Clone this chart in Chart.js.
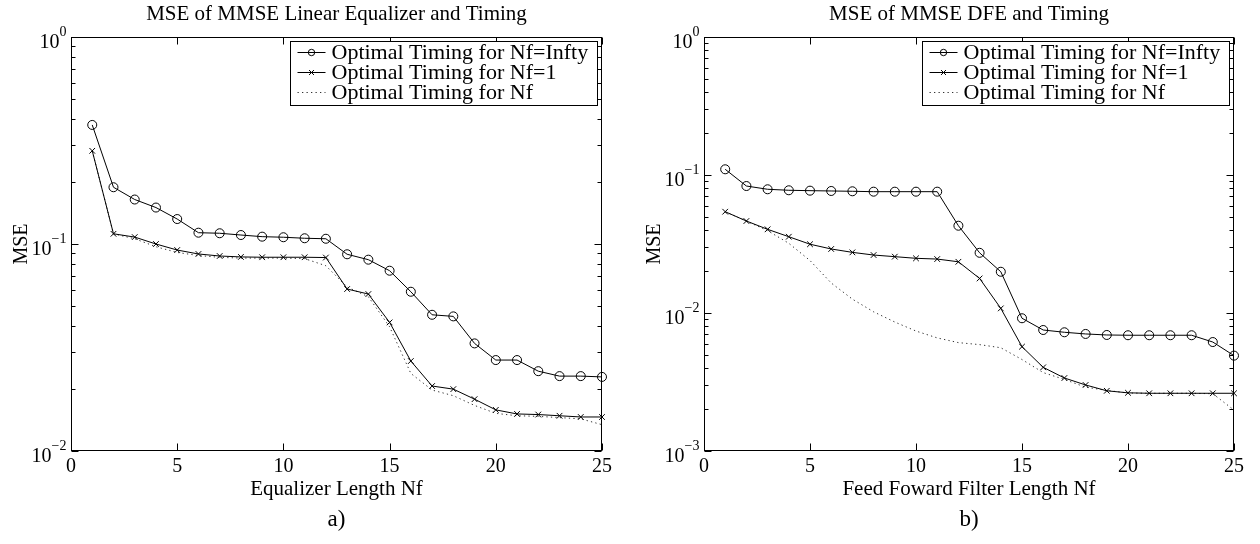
<!DOCTYPE html>
<html><head><meta charset="utf-8">
<script src="https://cdn.jsdelivr.net/npm/chart.js@4.4.1/dist/chart.umd.min.js"></script>
<style>
html,body{margin:0;padding:0;background:#fff;}
#wrap{position:relative;width:1260px;height:544px;overflow:hidden;background:#fff;}
canvas{position:absolute;top:0;}
</style></head><body>
<div id="wrap">
<canvas id="c1" width="640" height="544" style="left:0px"></canvas>
<canvas id="c2" width="620" height="544" style="left:640px"></canvas>
</div>
<script>
// ---------- data ----------
const nf = [1,2,3,4,5,6,7,8,9,10,11,12,13,14,15,16,17,18,19,20,21,22,23,24,25];
const xTicks = [0,5,10,15,20,25];
const yTicksLE = [0.01, 0.1, 1];
const yTicksDFE = [0.001, 0.01, 0.1, 1];
const legendLabels = ['Optimal Timing for Nf=Infty', 'Optimal Timing for Nf=1', 'Optimal Timing for Nf'];

// a) MMSE linear equalizer
const leInfty = [0.376, 0.188, 0.164, 0.150, 0.132, 0.1134, 0.1127, 0.1105, 0.1085, 0.1078, 0.1066, 0.1060, 0.0892, 0.0840, 0.0743, 0.0588, 0.0455, 0.0447, 0.0331, 0.0275, 0.0275, 0.0243, 0.0230, 0.0230, 0.0228];
const leNf1   = [0.282, 0.112, 0.108, 0.100, 0.0935, 0.0895, 0.0875, 0.0866, 0.0863, 0.0863, 0.0863, 0.0860, 0.0606, 0.0573, 0.0418, 0.0272, 0.0206, 0.0199, 0.0178, 0.0158, 0.0151, 0.0150, 0.0148, 0.0146, 0.0146];
const leNfOpt = [0.282, 0.112, 0.106, 0.097, 0.091, 0.0880, 0.0862, 0.0855, 0.0855, 0.0855, 0.0850, 0.0785, 0.0620, 0.0556, 0.0398, 0.0237, 0.0197, 0.0185, 0.0166, 0.0152, 0.0148, 0.0147, 0.0145, 0.0143, 0.0134];

// b) MMSE DFE
const dfeInfty = [0.110, 0.0832, 0.0788, 0.0775, 0.0770, 0.0766, 0.0762, 0.0757, 0.0757, 0.0757, 0.0757, 0.0429, 0.0273, 0.0199, 0.00916, 0.00753, 0.00725, 0.00705, 0.00693, 0.0069, 0.0069, 0.0069, 0.0069, 0.00616, 0.00491];
const dfeNf1   = [0.0542, 0.0464, 0.0404, 0.0357, 0.0315, 0.0291, 0.0275, 0.0263, 0.0256, 0.0249, 0.0246, 0.0235, 0.0178, 0.0108, 0.0057, 0.00404, 0.00338, 0.00301, 0.00273, 0.00264, 0.00262, 0.00262, 0.00262, 0.00262, 0.00262];
const dfeNfOpt = [0.0542, 0.0464, 0.0395, 0.0320, 0.0240, 0.0165, 0.0126, 0.0102, 0.0086, 0.0074, 0.0066, 0.0061, 0.0059, 0.0056, 0.0046, 0.0037, 0.0033, 0.0029, 0.00275, 0.00263, 0.00262, 0.00262, 0.00262, 0.0026, 0.00198];

// ---------- drawing ----------
const FONT = '"Liberation Serif", "Times New Roman", Times, serif';
const pts = arr => nf.map((v, i) => ({x: v, y: arr[i]}));

function line(ctx, x1, y1, x2, y2) { ctx.beginPath(); ctx.moveTo(x1, y1); ctx.lineTo(x2, y2); ctx.stroke(); }

function drawMarker(ctx, style, cx, cy, r) {
  ctx.beginPath();
  if (style === 'circle') { ctx.arc(cx, cy, r, 0, Math.PI * 2); }
  else if (style === 'crossRot') { const d = r * 0.7071; ctx.moveTo(cx - d, cy - d); ctx.lineTo(cx + d, cy + d); ctx.moveTo(cx + d, cy - d); ctx.lineTo(cx - d, cy + d); }
  ctx.stroke();
}

const matlabPlugin = {
  id: 'matlab',
  afterDraw(chart, args, o) {
    const {ctx, chartArea: ca} = chart;
    const xs = chart.scales.x, ys = chart.scales.y;
    ctx.save();
    ctx.strokeStyle = '#000'; ctx.fillStyle = '#000'; ctx.lineWidth = 1; ctx.setLineDash([]);
    const L = Math.round(ca.left) + 0.5, R = Math.round(ca.right) - 0.5, T = Math.round(ca.top) + 0.5, B = Math.round(ca.bottom) - 0.5;
    // ticks
    for (const v of xTicks) {
      const px = Math.round(xs.getPixelForValue(v)) + 0.5;
      line(ctx, px, B, px, B - 7); line(ctx, px, T, px, T + 7);
    }
    const e0 = Math.round(Math.log10(o.yTicks[0])), e1 = Math.round(Math.log10(o.yTicks[o.yTicks.length - 1]));
    for (let e = e0; e < e1; e++) {
      for (let m = 1; m <= 9; m++) {
        const py = Math.round(ys.getPixelForValue(m * Math.pow(10, e))) + 0.5;
        const len = m === 1 ? 7 : 4;
        line(ctx, L, py, L + len, py); line(ctx, R, py, R - len, py);
      }
    }
    // frame
    ctx.strokeRect(L, T, R - L, B - T);
    // x tick labels
    ctx.font = '20px ' + FONT; ctx.textAlign = 'center'; ctx.textBaseline = 'alphabetic';
    for (const v of xTicks) ctx.fillText(String(v), xs.getPixelForValue(v), B + 21);
    // y tick labels (10^e)
    for (const v of o.yTicks) {
      const e = Math.round(Math.log10(v));
      const py = ys.getPixelForValue(v);
      const es = e < 0 ? '\u2212' + Math.abs(e) : String(e);
      ctx.font = '14px ' + FONT;
      const wE = ctx.measureText(es).width;
      const xr = L - 5;
      ctx.textAlign = 'left'; ctx.fillText(es, xr - wE, py - 1);
      ctx.font = '20px ' + FONT; ctx.textAlign = 'right'; ctx.fillText('10', xr - wE, py + 11);
    }
    const cx = (L + R) / 2;
    // title
    ctx.font = '21px ' + FONT; ctx.textAlign = 'center';
    ctx.fillText(o.title, cx, 20);
    // x label
    ctx.font = '21px ' + FONT; ctx.fillText(o.xlabel, cx, 495);
    // caption
    ctx.font = '23px ' + FONT; ctx.fillText(o.caption, cx, 526);
    // y label
    ctx.save(); ctx.translate(L - 50, (T + B) / 2); ctx.rotate(-Math.PI / 2);
    ctx.font = '20px ' + FONT; ctx.textAlign = 'center'; ctx.textBaseline = 'middle';
    ctx.fillText('MSE', 0, 0); ctx.restore();
    // legend
    ctx.font = '22px ' + FONT;
    let tw = 0; for (const s of legendLabels) tw = Math.max(tw, ctx.measureText(s).width);
    const bw = 41 + tw + 10, br = R - 4, bl = Math.round(br - bw) + 0.5, bt = T + 4, bb = T + 68;
    ctx.fillStyle = '#fff'; ctx.fillRect(bl, bt, br - bl, bb - bt);
    ctx.strokeStyle = '#000'; ctx.strokeRect(bl, bt, br - bl, bb - bt);
    ctx.fillStyle = '#000'; ctx.textAlign = 'left'; ctx.textBaseline = 'middle';
    chart.data.datasets.forEach((ds, i) => {
      const ry = bt + 11 + i * 20;
      ctx.strokeStyle = ds.borderColor; ctx.lineWidth = 1;
      ctx.setLineDash(ds.borderDash || []);
      line(ctx, bl + 7, ry, bl + 35, ry);
      ctx.setLineDash([]);
      if (ds.pointRadius > 0) drawMarker(ctx, ds.pointStyle, bl + 21, ry, ds.pointStyle === 'circle' ? 3.2 : 3.5);
      ctx.fillStyle = '#000';
      ctx.fillText(legendLabels[i], bl + 41, ry + 1);
    });
    ctx.restore();
  }
};

function makeChart(id, series, yTicks, pad, title, xlabel, caption) {
  const [a, b, c] = series;
  return new Chart(document.getElementById(id), {
    type: 'line',
    data: {
      datasets: [
        {label: legendLabels[0], data: pts(a), borderColor: '#000', borderWidth: 1, pointStyle: 'circle', pointRadius: 4.5, pointBorderWidth: 1, pointBorderColor: '#000', pointBackgroundColor: 'rgba(0,0,0,0)', clip: false, tension: 0},
        {label: legendLabels[1], data: pts(b), borderColor: '#000', borderWidth: 1, pointStyle: 'crossRot', pointRadius: 4, pointBorderWidth: 1, pointBorderColor: '#000', clip: false, tension: 0},
        {label: legendLabels[2], data: pts(c), borderColor: '#333', borderWidth: 1, borderDash: [1.3, 3.2], pointRadius: 0, clip: false, tension: 0}
      ]
    },
    options: {
      responsive: false, animation: false, devicePixelRatio: 1, events: [],
      layout: {padding: pad},
      scales: {
        x: {type: 'linear', min: 0, max: 25, display: false},
        y: {type: 'logarithmic', min: yTicks[0], max: yTicks[yTicks.length - 1], display: false}
      },
      plugins: {
        legend: {display: false}, tooltip: {enabled: false},
        matlab: {title, xlabel, caption, yTicks}
      }
    },
    plugins: [matlabPlugin]
  });
}

makeChart('c1', [leInfty, leNf1, leNfOpt], yTicksLE, {left: 71, right: 38, top: 37, bottom: 93},
  'MSE of MMSE Linear Equalizer and Timing', 'Equalizer Length Nf', 'a)');
makeChart('c2', [dfeInfty, dfeNf1, dfeNfOpt], yTicksDFE, {left: 64, right: 26, top: 37, bottom: 93},
  'MSE of MMSE DFE and Timing', 'Feed Foward Filter Length Nf', 'b)');
</script>
</body></html>
